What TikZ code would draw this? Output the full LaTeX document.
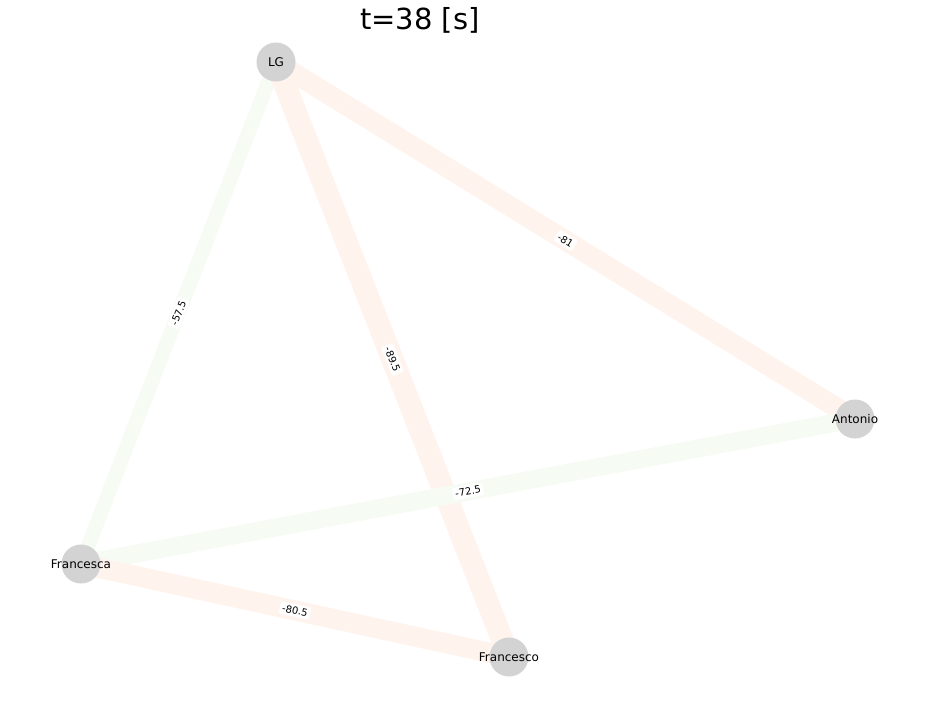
\documentclass[tikz,border=0pt]{standalone}
\usepackage{fontspec}
\setmainfont{DejaVu Sans}
\usetikzlibrary{backgrounds}
\definecolor{edgered}{RGB}{255,243,238}
\definecolor{edgegreen}{RGB}{246,251,244}
\definecolor{nodegray}{RGB}{211,211,211}

\begin{document}
\begin{tikzpicture} [
  x=1pt, y=-1pt,
  player/.style={circle,fill=nodegray,minimum size=39pt,inner sep=0},
  every label/.style={font=\fontsize{12}{14}\selectfont,inner sep=0},
  weight/.style={midway,sloped,fill=white,rounded corners=2pt,inner sep=2.5pt,font=\fontsize{10}{12}\selectfont}
  ]
  \useasboundingbox (0,0) rectangle (936,720);
  \node (title) at (420,20) {\fontsize{29}{34}\selectfont t=38 [s]};
  \node (LG) [player,label=center:LG] at (276,62) {};
  \node (antonio) [player,label=center:Antonio] at (855,419) {};
  \node (francesca) [player,label=center:Francesca] at (81,564) {};
  \node (francesco) [player,label=center:Francesco] at (509,657) {};
  \begin{pgfonlayer}{background}
    \draw [edgegreen,line width=14.4pt] (LG.center) -- (francesca.center);
    \draw [edgered,line width=22.4pt] (LG.center) -- (francesco.center);
    \draw [edgered,line width=20.2pt] (LG.center) -- (antonio.center);
    \draw [edgegreen,line width=18.1pt] (francesca.center) -- (antonio.center);
    \draw [edgered,line width=20.1pt] (francesca.center) -- (francesco.center);
    \path (LG) -- (francesca) node [weight] {-57.5};
    \path (LG) -- (francesco) node [weight] {-89.5};
    \path (LG) -- (antonio) node [weight] {-81};
    \path (francesca) -- (antonio) node [weight] {-72.5};
    \path (francesca) -- (francesco) node [weight] {-80.5};
  \end{pgfonlayer}
\end{tikzpicture}
\end{document}
